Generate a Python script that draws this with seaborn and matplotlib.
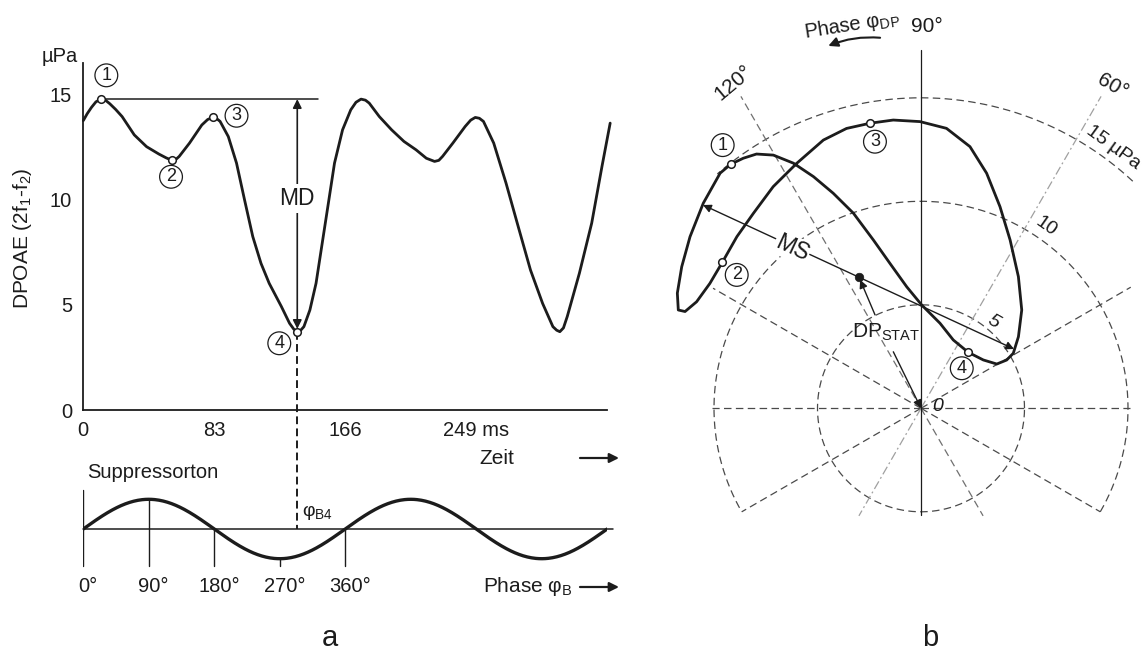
import numpy as np
import pandas as pd
import matplotlib
matplotlib.use("Agg")
import matplotlib.pyplot as plt
from matplotlib.patches import FancyArrowPatch
import seaborn as sns

# ---------------------------------------------------------------- data
# DPOAE (2f1-f2) amplitude over time, µPa
time_ms = [0, 2.5, 5.2, 8.0, 11.1, 14.0, 16.8, 20.5, 24.6, 32.3, 40.1, 47.9,
           52.5, 56.2, 58.6, 60.8, 67.3, 75.1, 78.8, 82.0, 84.6, 86.7, 91.9,
           97.1, 102.2, 107.4, 112.6, 117.8, 125.5, 130.7, 133.4, 135.6, 137.8,
           139.8, 143.6, 147.5, 151.4, 155.3, 159.2, 164.3, 169.5, 172.8,
           176.0, 178.8, 181.2, 187.6, 195.4, 203.2, 210.9, 217.4, 222.6,
           225.3, 227.7, 234.2, 242.0, 245.5, 248.4, 251.0, 253.6, 260.1,
           267.9, 275.6, 283.4, 291.1, 297.6, 300.0, 302.0, 304.3, 306.7,
           314.4, 322.2, 328.7, 333.9]
dpoae_uPa = [13.75, 14.08, 14.38, 14.64, 14.77, 14.72, 14.55, 14.28, 13.94,
             13.07, 12.51, 12.16, 11.98, 11.86, 11.90, 12.05, 12.68, 13.54,
             13.80, 13.90, 13.84, 13.71, 12.99, 11.73, 9.98, 8.24, 6.97, 6.02,
             4.92, 4.12, 3.84, 3.72, 3.79, 3.96, 4.75, 6.02, 7.92, 9.82, 11.73,
             13.31, 14.26, 14.62, 14.77, 14.72, 14.58, 13.94, 13.31, 12.76,
             12.36, 11.96, 11.81, 11.86, 12.05, 12.68, 13.47, 13.77, 13.90,
             13.86, 13.71, 12.68, 10.78, 8.72, 6.65, 5.06, 3.96, 3.79, 3.72,
             3.90, 4.44, 6.50, 8.88, 11.57, 13.63]

# numbered reference points on the time course
point_ms = [11.1, 56.2, 82.0, 135.6]
point_uPa = [14.77, 11.86, 13.90, 3.72]
point_names = ["1", "2", "3", "4"]

time_ticks = [0, 83, 166, 249]
time_ticklabels = ["0", "83", "166", "249 ms"]
time_minor = [41.5, 124.5, 207.5, 290.5]
amp_ticks = [0, 5, 10, 15]

# suppressor tone
tone_phase_deg = [0, 90, 180, 270, 360]
tone_phase_labels = ["0°", "90°", "180°", "270°", "360°"]
tone_period_ms = 166
tone_cycles = 2

# DPOAE trajectory in the complex plane: phase (deg) and magnitude (µPa)
traj_phase_deg = [127.9, 130.5, 136.7, 143.4, 149.4, 154.7, 157.95, 157.7,
                  154.6, 149.4, 143.7, 137.0, 130.7, 123.7, 116.9, 110.0,
                  104.9, 100.15, 95.5, 90.2, 84.8, 79.4, 74.4, 68.6, 62.1,
                  53.5, 44.3, 36.3, 30.8, 29.4, 30.3, 37.8, 49.8, 64.7, 77.4,
                  89.6, 96.7, 102.1, 105.8, 109.1, 112.2, 114.9, 117.5, 120.25,
                  122.9, 125.4, 127.9]
traj_uPa = [14.95, 14.94, 14.45, 13.90, 13.43, 13.02, 12.65, 12.32, 12.00,
            11.85, 11.91, 12.16, 12.42, 12.87, 13.27, 13.79, 13.99, 13.99,
            13.99, 13.85, 13.58, 12.86, 11.79, 10.46, 9.20, 7.91, 6.80, 5.84,
            5.19, 4.75, 4.24, 3.81, 3.54, 3.65, 4.21, 4.99, 5.91, 7.16, 8.45,
            9.97, 11.22, 12.34, 13.35, 14.16, 14.63, 14.82, 14.95]
traj_point_phase = [127.9, 143.7, 100.15, 49.8]
traj_point_uPa = [14.95, 11.91, 13.99, 3.54]
dp_stat_phase, dp_stat_uPa = 115.3, 7.0
ms_end_phase = [137.0, 32.5]
ms_end_uPa = [14.4, 5.33]
ring_uPa = [5, 10, 15]
ring_labels = ["5", "10", "15 µPa"]

# ---------------------------------------------------------------- style
INK = "#1c1c1c"
GRID = "#4a4a4a"
sns.set_style("white")
plt.rcParams.update({
    "font.family": ["Liberation Sans", "DejaVu Sans"],
    "mathtext.fontset": "custom",
    "mathtext.rm": "Liberation Sans",
    "mathtext.it": "Liberation Sans:italic",
    "mathtext.bf": "Liberation Sans:bold",
    "text.color": INK,
    "axes.edgecolor": INK,
    "xtick.color": INK,
    "ytick.color": INK,
})

W, H = 1146, 655
fig = plt.figure(figsize=(W / 100, H / 100), dpi=100)
fig.patch.set_facecolor("white")


def ftext(x, y, s, **kw):
    """Text placed in figure pixels (y measured from the top)."""
    fig.text(x / W, 1 - y / H, s, **kw)


def farrow(x0, y0, x1, y1, **kw):
    fig.add_artist(FancyArrowPatch((x0 / W, 1 - y0 / H), (x1 / W, 1 - y1 / H),
                                   transform=fig.transFigure, **kw))


circ = dict(boxstyle="circle,pad=0.16", fc="white", ec=INK, lw=0.9)
CURVE_LW = 2.0

# ---------------------------------------------------------------- panel a: time course
X0, X1 = 83.3, 606.7
T_MAX = 331.7
Y_ZERO, Y_TOP = 410.0, 62.7
V_TOP = 16.5
ax = fig.add_axes([X0 / W, 1 - Y_ZERO / H, (X1 - X0) / W, (Y_ZERO - Y_TOP) / H])
ax.set_facecolor("none")

df_dp = pd.DataFrame({"t": time_ms, "a": dpoae_uPa})
sns.lineplot(data=df_dp, x="t", y="a", ax=ax, color=INK, lw=CURVE_LW,
             sort=False, estimator=None)
for ln in ax.lines:
    ln.set_clip_on(False)
    ln.set_solid_joinstyle("round")

# reference line at the maximum and the modulation depth arrow
ax.plot([point_ms[0], 148.5], [point_uPa[0], point_uPa[0]], color=INK, lw=1.1)
ax.annotate("", xy=(point_ms[3], point_uPa[0]), xytext=(point_ms[3], point_uPa[3]),
            arrowprops=dict(arrowstyle="<|-|>", color=INK, lw=1.2,
                            mutation_scale=13, shrinkA=2, shrinkB=0))
ax.text(point_ms[3], 10.05, "MD", ha="center", va="center", fontsize=16.5,
        bbox=dict(boxstyle="square,pad=0.12", fc="white", ec="none"))
# projection of point 4 onto the suppressor phase
ax.plot([point_ms[3], point_ms[3]], [point_uPa[3], -5.65], color=INK, lw=1.4,
        dashes=(4, 2.2), clip_on=False)

sns.scatterplot(x=point_ms, y=point_uPa, ax=ax, s=30, color="white",
                edgecolor=INK, linewidth=1.1, zorder=5, clip_on=False)
label_pos = [(14.6, 15.9), (55.6, 11.08), (97.1, 13.98), (124.2, 3.17)]
for (lx, ly), name in zip(label_pos, point_names):
    ax.text(lx, ly, name, ha="center", va="center", fontsize=13, bbox=circ,
            zorder=6)

ax.set_xlim(0, T_MAX)
ax.set_ylim(0, V_TOP)
ax.set_xticks(time_ticks, time_ticklabels)
ax.set_xticks(time_minor, minor=True)
ax.set_yticks(amp_ticks)
ax.tick_params(which="major", direction="out", length=4, width=1.2,
               labelsize=14.5, pad=4)
ax.tick_params(which="minor", direction="out", length=2.5, width=1.2)
ax.set_xlabel("")
ax.set_ylabel("")
sns.despine(ax=ax)
for side in ("left", "bottom"):
    ax.spines[side].set_linewidth(1.3)

ftext(60, 57, "µPa", ha="center", va="center", fontsize=14.5)
ftext(22, 238, "DPOAE (2f$_\\mathrm{1}$-f$_\\mathrm{2}$)", ha="center",
      va="center", rotation=90, fontsize=15)
ftext(497, 458, "Zeit", ha="center", va="center", fontsize=15)
farrow(580, 458, 619, 458, arrowstyle="-|>", mutation_scale=14, lw=1.6,
       color=INK, shrinkA=0, shrinkB=0)

# ---------------------------------------------------------------- suppressor tone
SY_TOP, SY_BOT = 469.6, 588.4
ax2 = fig.add_axes([X0 / W, 1 - SY_BOT / H, (X1 - X0) / W, (SY_BOT - SY_TOP) / H])
ax2.set_facecolor("none")
ax2.axis("off")
ax2.set_xlim(0, T_MAX)
ax2.set_ylim(-2, 2)

phase = np.linspace(0, 360 * tone_cycles, 500)
tone_t = phase / 360 * tone_period_ms
sns.lineplot(x=tone_t, y=np.sin(np.deg2rad(phase)), ax=ax2, color=INK, lw=2.4,
             sort=False, estimator=None)
ax2.plot([0, 335.6], [0, 0], color=INK, lw=1.1, clip_on=False)
for p, lab in zip(tone_phase_deg, tone_phase_labels):
    tt = p / 360 * tone_period_ms
    top = 1.31 if p == 0 else np.sin(np.deg2rad(p))
    ax2.plot([tt, tt], [top, -1.25], color=INK, lw=1.0)
    ax2.annotate(lab, xy=(tt, -1.95), xytext=(3.5, 0), textcoords="offset points",
                 ha="center", va="center", fontsize=14.5)
ax2.text(138.6, 0.55, "φ$_\\mathrm{B4}$", ha="left", va="center", fontsize=14)
ax2.set_xlabel("")
ax2.set_ylabel("")

ftext(87, 473, "Suppressorton", ha="left", va="center", fontsize=14.5)
ftext(483, 587, "Phase φ$_\\mathrm{B}$", ha="left", va="center", fontsize=15)
farrow(580, 587, 619, 587, arrowstyle="-|>", mutation_scale=14, lw=1.6,
       color=INK, shrinkA=0, shrinkB=0)
ftext(330, 638, "a", ha="center", va="center", fontsize=21)

# ---------------------------------------------------------------- panel b: polar trajectory
R_MAX = 19.5
PX_PER_UPA = 20.7
CX, CY = 921.0, 408.3
rpx = R_MAX * PX_PER_UPA
axp = fig.add_axes([(CX - rpx) / W, (H - CY - rpx) / H, 2 * rpx / W, 2 * rpx / H],
                   projection="polar")
axp.set_facecolor("none")


def th(deg):
    return np.deg2rad(deg)


# dashed magnitude rings
ring_span = {5: (0, 360), 10: (-30, 210), 15: (47, 131)}
for r in ring_uPa:
    a0, a1 = ring_span[r]
    ang = th(np.linspace(a0, a1, 400))
    axp.plot(ang, np.full(ang.shape, r), color=GRID, lw=0.9, dashes=(6, 3.5))

# phase spokes: angle, outward length, length on the opposite side, colour, dashes
spokes = [(0, 10.1, 10.1, GRID, (6, 3.5)),
          (30, 11.7, 10.0, GRID, (6, 3.5)),
          (150, 11.6, 10.0, GRID, (6, 3.5)),
          (60, 17.4, 6.0, "#a0a0a0", (7, 2.5, 1.5, 2.5)),
          (120, 17.4, 6.0, "#707070", (6, 3.5))]
for a, rf, rb, col, dsh in spokes:
    axp.plot([th(a), th(a)], [0, rf], color=col, lw=0.9, dashes=dsh)
    axp.plot([th(a + 180), th(a + 180)], [0, rb], color=col, lw=0.9, dashes=dsh)
axp.plot([th(90), th(90)], [0, 17.3], color=INK, lw=0.9)
axp.plot([th(270), th(270)], [0, 5.15], color=INK, lw=0.9)

df_tr = pd.DataFrame({"phi": th(np.array(traj_phase_deg)), "r": traj_uPa})
sns.lineplot(data=df_tr, x="phi", y="r", ax=axp, color=INK, lw=CURVE_LW,
             sort=False, estimator=None)
axp.lines[-1].set_solid_joinstyle("round")

# maximum suppression span and static DP vector
axp.annotate("", xy=(th(ms_end_phase[0]), ms_end_uPa[0]),
             xytext=(th(ms_end_phase[1]), ms_end_uPa[1]),
             arrowprops=dict(arrowstyle="<|-|>", color=INK, lw=1.0,
                             mutation_scale=12, shrinkA=0, shrinkB=0))
axp.text(th(128.8), 9.94, "MS", ha="center", va="center", fontsize=16.5,
         rotation=-25, bbox=dict(boxstyle="square,pad=0.05", fc="white", ec="none"))
sns.scatterplot(x=[th(dp_stat_phase)], y=[dp_stat_uPa], ax=axp, s=38,
                color=INK, edgecolor=INK, zorder=6)
axp.annotate("", xy=(th(dp_stat_phase), dp_stat_uPa), xytext=(th(116.2), 5.03),
             arrowprops=dict(arrowstyle="-|>", color=INK, lw=1.0,
                             mutation_scale=12, shrinkA=0, shrinkB=2))
axp.annotate("", xy=(0, 0), xytext=(th(116.1), 3.04),
             arrowprops=dict(arrowstyle="-|>", color=INK, lw=1.0,
                             mutation_scale=12, shrinkA=0, shrinkB=0))
axp.text(th(114.3), 4.04, "DP$_\\mathrm{STAT}$", ha="center", va="center",
         fontsize=15)

sns.scatterplot(x=th(np.array(traj_point_phase)), y=traj_point_uPa, ax=axp, s=30,
                color="white", edgecolor=INK, linewidth=1.1, zorder=6)
traj_label_pos = [(127.0, 15.92), (144.1, 10.99), (99.8, 13.07), (44.5, 2.76)]
for (a, r), name in zip(traj_label_pos, point_names):
    axp.text(th(a), r, name, ha="center", va="center", fontsize=13, bbox=circ,
             zorder=7)

# ring and phase labels
axp.text(th(50.1), 5.45, ring_labels[0], ha="center", va="center", fontsize=14,
         rotation=-30, style="italic")
axp.text(th(55.5), 10.64, ring_labels[1], ha="center", va="center", fontsize=14,
         rotation=-35)
axp.text(th(53.6), 15.63, ring_labels[2], ha="center", va="center", fontsize=14,
         rotation=-36)
axp.text(th(5.6), 0.79, "0", ha="center", va="center", fontsize=14,
         style="italic")
axp.text(th(59.2), 18.1, "60°", ha="center", va="center", fontsize=15,
         rotation=-30)
axp.text(th(120.0), 18.13, "120°", ha="center", va="center", fontsize=15,
         rotation=40)
axp.text(th(89.1), 18.44, "90°", ha="center", va="center", fontsize=15)
axp.text(th(100.25), 18.82, "Phase φ$_\\mathrm{DP}$", ha="center", va="center",
         fontsize=14.5, rotation=9)
axp.annotate("", xy=(th(104.35), 18.07), xytext=(th(96.3), 18.01),
             arrowprops=dict(arrowstyle="-|>", color=INK, lw=1.5,
                             mutation_scale=14, shrinkA=0, shrinkB=0,
                             connectionstyle="arc3,rad=0.12"))

axp.set_ylim(0, R_MAX)
axp.set_xticks([])
axp.set_yticks([])
axp.grid(False)
axp.spines["polar"].set_visible(False)
axp.set_xlabel("")
axp.set_ylabel("")

ftext(930, 638, "b", ha="center", va="center", fontsize=21)

fig.savefig("out.png", dpi=100, facecolor="white")
